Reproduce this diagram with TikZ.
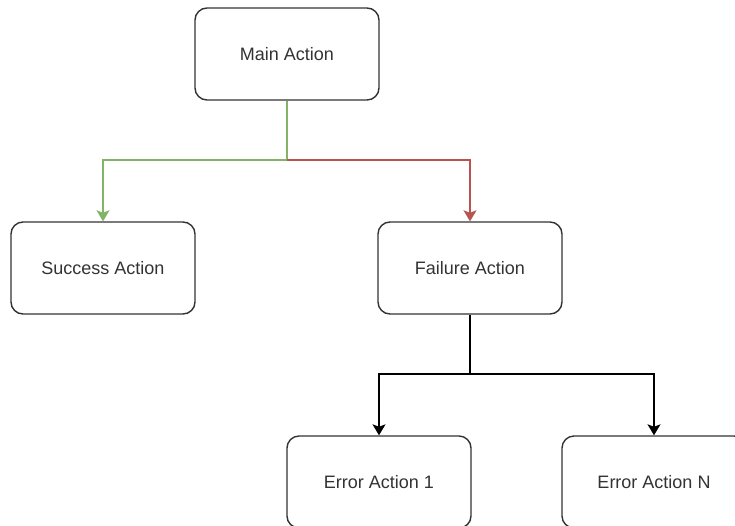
\documentclass[tikz,border=0pt]{standalone}
\usepackage{fontspec}
\setmainfont{Liberation Sans}
\usetikzlibrary{arrows.meta,positioning}
\definecolor{okline}{HTML}{82B366}
\definecolor{failline}{HTML}{B85450}
\definecolor{boxline}{HTML}{333333}
\tikzset{
  action/.style={
    rounded corners=12pt,
    draw=boxline,
    line width=1.4pt,
    fill=white,
    align=center,
    font=\fontsize{18}{21}\selectfont,
    text=black!80,
    minimum width=184pt,
    minimum height=92pt
  },
  flow/.style={line width=1.3pt, -{Stealth[length=11pt,width=13pt,inset=2.5pt]}},
  okedge/.style={flow, draw=okline},
  failedge/.style={flow, draw=failline},
  erredge/.style={flow, draw=black}
}

\begin{document}
\begin{tikzpicture}[x=1pt,y=-1pt]
\useasboundingbox (0,0) rectangle (735,525);
\clip (0,0) rectangle (735,525);
\fill[white] (0,0) rectangle (735,525);

\node[action] (main) at (287,54) {Main Action};

\node[action] (success) at (103,268) {Success Action};
\node[action] (failure) at (470,268) {Failure Action};

\node[action] (err1) at (379,482) {Error Action 1};
\node[action] (errn) at (654,482) {Error Action N};

\coordinate (split) at (287,160);
\coordinate (errsplit) at (470,374);

\draw[okedge] (main.south) -- (split) -| (success.north);
\draw[failedge] (split) -| (failure.north);
\draw[erredge] (failure.south) -- (errsplit) -| (err1.north);
\draw[erredge] (errsplit) -| (errn.north);

\end{tikzpicture}
\end{document}
